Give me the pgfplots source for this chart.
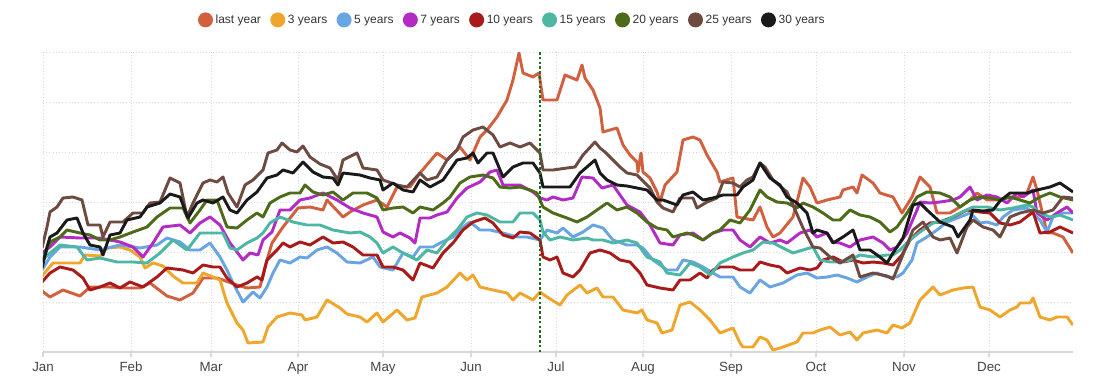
\documentclass[border=0pt]{standalone}
\usepackage{fontspec}
\setmainfont{Liberation Sans}
\usepackage{pgfplots}
\pgfplotsset{compat=1.18}
\definecolor{cLast}{HTML}{D2603F}
\definecolor{cThree}{HTML}{F0A62C}
\definecolor{cFive}{HTML}{68A5E2}
\definecolor{cSeven}{HTML}{B42AC4}
\definecolor{cTen}{HTML}{A91A1A}
\definecolor{cFifteen}{HTML}{4DB7A4}
\definecolor{cTwenty}{HTML}{4E6B1A}
\definecolor{cTwentyFive}{HTML}{6E4B40}
\definecolor{cThirty}{HTML}{1A1A1A}
\definecolor{cMark}{HTML}{1E6B1E}
\definecolor{cGrid}{HTML}{D8D8D8}
\definecolor{cText}{HTML}{444444}
\begin{document}
\begin{tikzpicture}
\useasboundingbox (-32.25pt,-25.5pt) rectangle (787.5pt,264pt);
\begin{axis}[
  at={(0,0)}, anchor=south west, scale only axis,
  width=772.5pt, height=225pt,
  xmin=43, xmax=1073, ymin=52, ymax=352, y dir=reverse,
  axis line style={draw=none},
  xtick={43,131,211,298,383,471,556,643,731,816,904,989},
  xticklabels={Jan,Feb,Mar,Apr,May,Jun,Jul,Aug,Sep,Oct,Nov,Dec},
  xtick pos=left,
  ytick={52,102,152,202,252,302}, yticklabels={},
  extra y ticks={352}, extra y tick labels={},
  extra y tick style={grid style={solid, cGrid, line width=0.8pt}, ytick style={draw=none}},
  xmajorgrids, ymajorgrids,
  grid style={cGrid, dotted, line width=0.6pt},
  ytick style={draw=none},
  xtick style={cGrid, line width=0.8pt},
  tick align=outside, major tick length=4pt,
  x tick label style={font=\fontsize{10}{12}\selectfont, text=cText},
  legend style={at={(0.456,1.107)}, anchor=center, draw=none, fill=none,
    legend columns=9, font=\fontsize{9}{11}\selectfont, text=black!80,
    /tikz/every even column/.append style={column sep=5pt},
    /tikz/every odd column/.append style={column sep=0pt}},
  legend image code/.code={\fill[#1] (0.16cm,0cm) circle (4.5pt);},
  every axis plot/.append style={line width=2.2pt, line join=round, mark=none},
]
\addplot[cLast] coordinates {(42,291) (50,297) (63,290) (80,296) (90,287) (110,287) (127,288) (140,288) (150,283) (167,296) (180,300) (193,293) (203,278) (217,278) (223,280) (237,285) (247,288) (260,287) (265,267) (272,243) (283,227) (298,208) (310,207) (323,210) (327,200) (343,217) (350,212) (363,205) (377,200) (387,207) (397,187) (410,187) (420,173) (437,153) (447,160) (460,147) (470,160) (480,137) (487,130) (497,117) (507,100) (513,80) (519,53) (523,73) (533,77) (539,73) (543,100) (557,100) (565,75) (577,80) (582,65) (585,78) (593,90) (600,108) (603,132) (617,128) (623,145) (630,155) (637,162) (638,172) (641,153) (643,172) (650,178) (657,192) (660,202) (665,185) (677,172) (683,140) (693,137) (700,140) (707,155) (717,172) (720,182) (733,178) (737,217) (753,220) (760,207) (767,227) (773,237) (780,233) (793,217) (800,190) (803,178) (810,187) (817,203) (827,200) (840,197) (843,190) (853,187) (857,193) (862,175) (873,183) (880,193) (893,197) (902,213) (912,197) (920,177) (930,187) (937,213) (950,213) (960,207) (970,200) (977,193) (987,200) (997,200) (1010,197) (1020,197) (1027,193) (1033,177) (1037,190) (1047,233) (1053,233) (1063,237) (1073,253)};
\addlegendentry{last year}
\addplot[cThree] coordinates {(42,276) (53,263) (80,263) (85,255) (100,256) (107,248) (120,247) (130,250) (140,257) (145,268) (153,263) (163,266) (173,276) (183,283) (197,283) (203,273) (213,277) (220,280) (227,303) (237,323) (243,330) (248,343) (263,342) (268,327) (277,317) (290,313) (302,315) (305,320) (317,317) (327,300) (340,308) (347,314) (360,317) (367,322) (377,313) (383,322) (397,310) (407,320) (415,318) (422,297) (437,293) (447,287) (460,273) (467,280) (473,275) (480,287) (493,290) (507,293) (513,300) (520,293) (533,300) (540,292) (547,297) (560,305) (567,295) (580,285) (587,293) (597,288) (603,297) (613,297) (623,310) (637,313) (642,310) (647,320) (657,323) (662,333) (672,330) (680,305) (690,302) (700,310) (710,320) (720,333) (733,328) (740,343) (743,347) (753,347) (760,337) (767,340) (773,350) (780,348) (797,342) (803,333) (813,333) (820,330) (830,327) (840,335) (850,332) (857,340) (863,333) (877,330) (887,333) (893,325) (902,328) (910,323) (920,300) (927,293) (933,287) (940,295) (953,290) (963,288) (973,287) (980,307) (990,310) (1000,317) (1010,310) (1017,307) (1020,303) (1030,303) (1033,298) (1040,317) (1050,320) (1057,317) (1067,317) (1073,325)};
\addlegendentry{3 years}
\addplot[cFive] coordinates {(42,270) (50,257) (60,247) (80,247) (100,250) (120,245) (140,248) (157,245) (167,238) (180,242) (190,250) (200,250) (210,243) (220,257) (227,270) (233,283) (243,302) (253,292) (260,298) (267,287) (273,273) (280,260) (290,263) (300,257) (307,258) (317,250) (327,247) (337,253) (347,262) (360,263) (373,257) (380,267) (393,270) (403,253) (413,257) (420,247) (433,247) (440,243) (453,237) (463,227) (470,222) (480,230) (490,230) (503,233) (517,237) (527,237) (540,240) (547,230) (557,233) (563,228) (573,237) (583,232) (593,225) (603,228) (613,240) (627,245) (637,245) (643,248) (653,260) (667,270) (677,270) (683,260) (693,262) (703,267) (713,273) (720,277) (733,277) (740,287) (750,293) (760,280) (770,287) (783,283) (797,275) (807,273) (817,278) (827,277) (837,275) (847,278) (857,282) (867,277) (877,273) (887,277) (897,277) (903,273) (912,260) (917,243) (927,237) (937,230) (947,222) (960,217) (970,213) (980,223) (987,222) (997,225) (1003,217) (1013,210) (1027,208) (1040,220) (1047,232) (1053,217) (1063,213) (1073,213)};
\addlegendentry{5 years}
\addplot[cSeven] coordinates {(42,253) (50,247) (60,237) (80,238) (100,238) (110,240) (120,242) (133,247) (143,257) (153,243) (163,227) (180,225) (190,233) (200,223) (210,217) (220,225) (230,243) (237,252) (243,260) (250,253) (258,255) (263,240) (272,232) (280,210) (290,210) (300,200) (310,198) (323,193) (337,200) (350,208) (363,213) (377,217) (383,232) (393,237) (400,233) (410,238) (415,243) (420,218) (430,218) (437,215) (447,212) (457,198) (467,188) (480,182) (490,172) (497,170) (503,185) (520,185) (533,192) (540,198) (547,200) (553,197) (563,200) (573,198) (582,177) (593,178) (602,188) (613,185) (620,195) (627,205) (640,212) (650,225) (660,243) (673,245) (680,235) (693,233) (703,240) (713,233) (723,230) (733,230) (740,240) (750,247) (760,237) (770,243) (780,240) (787,243) (800,233) (810,230) (817,237) (827,233) (833,242) (840,243) (850,247) (860,240) (873,237) (883,243) (890,250) (897,247) (907,233) (917,210) (920,202) (930,203) (940,202) (953,200) (960,197) (970,187) (977,200) (987,195) (997,197) (1007,203) (1017,193) (1023,197) (1033,190) (1037,213) (1047,220) (1057,213) (1067,207) (1073,213)};
\addlegendentry{7 years}
\addplot[cTen] coordinates {(42,282) (50,273) (60,267) (73,270) (83,278) (90,290) (100,287) (110,283) (120,288) (130,282) (143,287) (157,277) (167,268) (183,270) (193,273) (203,265) (213,267) (220,267) (227,278) (237,287) (247,283) (257,277) (262,280) (267,260) (277,250) (283,243) (290,247) (300,242) (310,245) (323,237) (333,243) (343,242) (353,247) (363,255) (377,255) (383,267) (393,267) (403,270) (413,280) (420,263) (433,268) (443,253) (453,243) (463,230) (473,222) (485,218) (493,223) (503,235) (513,238) (520,232) (530,233) (540,240) (543,257) (550,260) (557,257) (563,273) (573,277) (580,270) (590,253) (600,250) (610,253) (620,260) (630,262) (640,273) (647,285) (660,288) (673,290) (680,280) (690,280) (700,273) (707,278) (713,270) (720,267) (733,267) (740,270) (753,270) (760,262) (770,265) (780,267) (787,273) (800,268) (810,270) (817,268) (823,260) (833,257) (843,262) (853,260) (863,263) (873,262) (883,263) (893,265) (902,255) (910,240) (920,230) (930,223) (940,222) (953,217) (967,210) (980,212) (990,213) (1000,223) (1010,225) (1020,222) (1033,212) (1040,233) (1050,232) (1060,227) (1073,233)};
\addlegendentry{10 years}
\addplot[cFifteen] coordinates {(42,260) (50,253) (60,245) (77,247) (87,260) (100,258) (117,262) (133,262) (147,263) (160,253) (173,240) (187,250) (200,233) (213,233) (223,233) (230,248) (237,250) (247,243) (257,238) (263,233) (270,223) (280,217) (293,222) (307,225) (320,225) (333,230) (350,233) (360,232) (370,237) (377,243) (383,253) (393,247) (403,253) (417,260) (427,250) (437,253) (447,240) (457,230) (467,217) (477,213) (487,215) (500,222) (513,222) (520,213) (533,213) (540,220) (543,232) (550,240) (560,237) (573,240) (587,238) (593,240) (603,240) (613,243) (627,240) (637,243) (647,257) (660,262) (667,273) (680,275) (690,263) (700,267) (710,275) (720,263) (733,257) (743,253) (753,250) (763,242) (773,243) (783,248) (793,253) (803,250) (813,247) (820,260) (830,262) (840,262) (850,260) (860,255) (873,257) (887,255) (893,255) (900,250) (910,240) (920,232) (933,223) (947,220) (960,213) (973,207) (987,207) (1000,210) (1013,208) (1027,205) (1033,207) (1040,213) (1050,217) (1060,215) (1073,220)};
\addlegendentry{15 years}
\addplot[cTwenty] coordinates {(42,262) (50,242) (60,237) (67,230) (80,233) (90,235) (100,240) (110,240) (120,237) (133,232) (147,227) (157,217) (170,208) (183,208) (190,223) (200,210) (207,200) (217,200) (227,227) (237,228) (247,220) (257,213) (263,217) (270,203) (280,197) (290,193) (300,193) (305,185) (313,192) (323,195) (333,192) (343,200) (353,193) (367,193) (377,198) (383,210) (393,208) (403,207) (413,213) (420,207) (433,210) (443,203) (450,197) (460,183) (470,177) (483,175) (493,178) (500,187) (510,188) (520,187) (530,190) (537,193) (543,207) (553,213) (567,218) (577,222) (587,217) (597,210) (607,203) (617,210) (627,207) (637,213) (647,222) (657,228) (667,230) (673,237) (687,233) (693,235) (703,240) (713,233) (720,230) (730,220) (740,223) (750,210) (760,190) (767,197) (777,202) (787,203) (797,208) (803,203) (813,207) (823,213) (833,220) (840,220) (850,210) (860,215) (870,217) (880,222) (890,232) (897,227) (907,213) (917,197) (927,192) (940,193) (950,197) (960,207) (970,200) (980,197) (990,198) (1000,200) (1010,197) (1020,200) (1030,203) (1040,197) (1050,193) (1060,197) (1073,200)};
\addlegendentry{20 years}
\addplot[cTwentyFive] coordinates {(42,248) (47,227) (50,212) (57,207) (63,198) (73,197) (82,200) (88,225) (100,225) (103,237) (110,222) (123,222) (133,213) (143,213) (150,203) (160,202) (170,178) (180,183) (187,217) (193,203) (203,183) (210,180) (217,182) (223,177) (228,193) (237,207) (245,185) (253,180) (263,170) (268,153) (277,150) (282,143) (290,150) (297,152) (303,146) (310,157) (320,164) (330,168) (338,180) (343,160) (357,153) (363,168) (377,170) (383,180) (397,185) (407,187) (420,173) (427,180) (437,177) (447,160) (457,150) (463,137) (473,130) (483,127) (493,135) (500,147) (510,143) (520,147) (530,143) (540,153) (543,170) (553,170) (567,168) (575,167) (583,155) (595,142) (600,148) (605,152) (613,160) (620,167) (627,173) (637,175) (650,188) (657,202) (663,208) (673,212) (680,198) (693,198) (697,208) (707,202) (717,198) (723,182) (733,183) (740,187) (747,180) (753,177) (760,163) (765,167) (773,180) (787,192) (793,205) (803,228) (813,247) (820,248) (830,257) (840,263) (853,255) (860,277) (873,273) (887,276) (893,279) (902,257) (913,230) (923,222) (933,237) (940,240) (950,238) (957,253) (967,227) (973,220) (983,227) (993,230) (1000,237) (1010,217) (1020,213) (1033,210) (1043,213) (1053,210) (1063,197) (1073,198)};
\addlegendentry{25 years}
\addplot[cThirty] coordinates {(42,268) (47,247) (50,237) (57,233) (67,220) (77,218) (83,233) (90,245) (100,247) (103,255) (110,235) (120,233) (127,220) (140,217) (147,207) (160,203) (170,194) (180,197) (188,218) (197,203) (203,200) (213,203) (223,197) (230,210) (237,213) (247,200) (257,192) (267,178) (277,175) (283,170) (293,173) (303,162) (313,172) (323,177) (333,178) (338,185) (343,173) (360,175) (370,178) (380,180) (383,190) (393,183) (403,190) (413,192) (420,180) (430,187) (443,180) (457,160) (467,158) (473,153) (478,163) (487,153) (493,153) (503,177) (513,167) (523,163) (533,163) (540,173) (543,187) (553,187) (570,187) (580,173) (595,160) (600,173) (607,180) (617,185) (627,186) (637,188) (647,190) (657,200) (663,200) (677,205) (683,195) (693,192) (703,200) (713,198) (723,195) (737,195) (743,187) (753,180) (760,163) (770,178) (780,185) (787,197) (797,203) (807,213) (813,233) (817,230) (827,233) (833,243) (843,237) (853,230) (860,250) (870,250) (880,257) (887,263) (893,253) (903,238) (913,205) (920,203) (927,210) (940,222) (953,227) (958,237) (970,220) (973,210) (983,211) (993,210) (1000,201) (1010,193) (1027,193) (1037,190) (1050,187) (1060,183) (1073,192)};
\addlegendentry{30 years}
\addplot[cMark, line width=1.6pt, dash pattern=on 2pt off 1.6pt, forget plot] coordinates {(540,52) (540,352)};
\end{axis}
\end{tikzpicture}
\end{document}
